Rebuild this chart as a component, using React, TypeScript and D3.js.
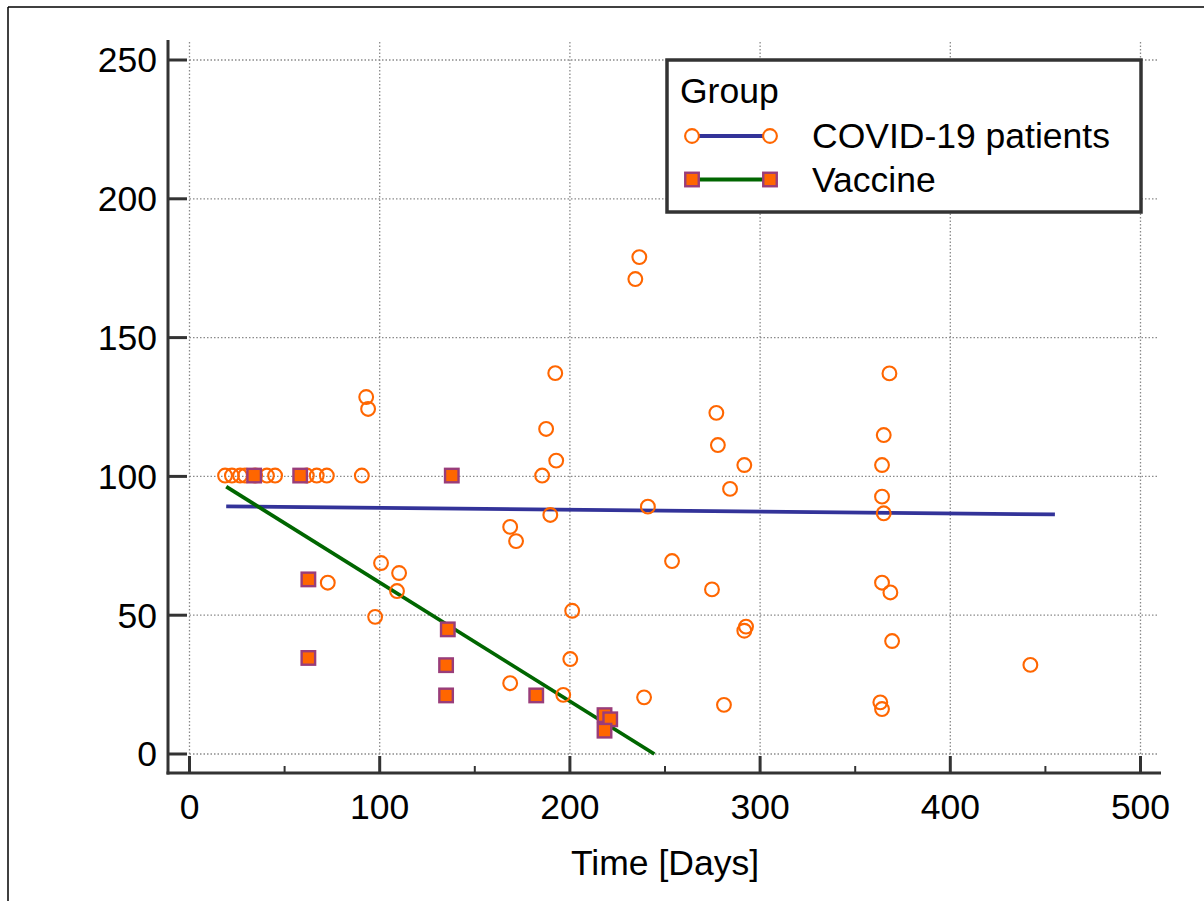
import React from "react";
import * as d3 from "d3";

// ---- data ----
const covidDays = [
  18.7, 22.3, 26.6, 29.2, 34.5, 40.7, 45, 61.7, 66.9, 72.2, 90.6, 185.4,
  92.9, 93.9, 100.7, 110.2, 109.1, 97.6, 72.7, 168.6, 171.7, 187.5, 192.3,
  192.8, 189.7, 201.2, 200.2, 196.5, 168.6, 234.4, 236.5, 241, 253.7, 239,
  277, 277.8, 291.7, 284.2, 274.7, 292.6, 291.7, 281, 368, 365, 364.1, 364.1,
  365, 364.1, 368.5, 369.4, 363.2, 364.1, 442.1,
];
const covidValues = [
  100.3, 100.3, 100.3, 100.3, 100.3, 100.3, 100.3, 100.3, 100.3, 100.3, 100.3, 100.3,
  128.6, 124.3, 68.8, 65.2, 58.7, 49.4, 61.7, 81.8, 76.7, 117.1, 137.2,
  105.7, 86.1, 51.6, 34.2, 21.3, 25.5, 171.1, 179, 89.1, 69.5, 20.4,
  122.9, 111.3, 104.1, 95.5, 59.3, 45.9, 44.4, 17.7, 137.1, 114.9, 104.1, 92.7,
  86.7, 61.7, 58.2, 40.7, 18.6, 16.2, 32.1,
];
const vaccineDays = [34, 58.2, 62.5, 62.5, 137.9, 135.8, 134.9, 134.9, 182.3, 218.2, 221.2, 218.2];
const vaccineValues = [100.3, 100.3, 62.9, 34.6, 100.3, 44.9, 32.0, 21.1, 21.1, 14.0, 12.5, 8.4];

const covidFitDays = [19.3, 455];
const covidFitValues = [89.2, 86.3];
const vaccineFitDays = [19.3, 244.4];
const vaccineFitValues = [96.3, 0];

const xTicks = [0, 100, 200, 300, 400, 500];
const xMinorTicks = [50, 150, 250, 350, 450];
const yTicks = [0, 50, 100, 150, 200, 250];

const groupLabels = ["COVID-19 patients", "Vaccine"];

export default function App() {
  const x = d3.scaleLinear().domain([0, 500]).range([189.5, 1140.5]);
  const y = d3.scaleLinear().domain([0, 250]).range([754, 60]);
  const font = "'Liberation Sans', Arial, sans-serif";
  const fs = 35.5;
  const axisColor = "#333333";
  const orange = "#ff6600";
  const purple = "#993d7a";
  const blue = "#333399";
  const green = "#006600";

  const line = d3
    .line<[number, number]>()
    .x((d) => x(d[0]))
    .y((d) => y(d[1]));

  const covidFit = covidFitDays.map((d, i) => [d, covidFitValues[i]] as [number, number]);
  const vaccineFit = vaccineFitDays.map((d, i) => [d, vaccineFitValues[i]] as [number, number]);

  const sq = 13.5;
  const r = 6.9;
  const lw = 3.8;

  return (
    <svg
      width={1204}
      height={901}
      style={{ position: "absolute", left: 0, top: 0, background: "#fff" }}
    >
      {/* outer frame */}
      <line x1={8} y1={7} x2={1204} y2={7} stroke="#000" strokeWidth={1.5} />
      <line x1={8} y1={7} x2={8} y2={901} stroke="#000" strokeWidth={1.5} />

      {/* grid */}
      {xTicks.map((t) => (
        <line
          key={"gx" + t}
          x1={x(t)}
          x2={x(t)}
          y1={42}
          y2={y(0)}
          stroke="#8a8a8a"
          strokeWidth={1.3}
          strokeDasharray="1.5,2"
        />
      ))}
      {yTicks.map((t) => (
        <line
          key={"gy" + t}
          x1={x(0)}
          x2={1159}
          y1={y(t)}
          y2={y(t)}
          stroke="#8a8a8a"
          strokeWidth={1.3}
          strokeDasharray="1.5,2"
        />
      ))}

      {/* axes */}
      <line x1={168} x2={168} y1={40} y2={774.5} stroke={axisColor} strokeWidth={3} />
      <line x1={166.5} x2={1161} y1={773} y2={773} stroke={axisColor} strokeWidth={3} />
      {yTicks.map((t) => (
        <g key={"yt" + t}>
          <line x1={168} x2={187} y1={y(t)} y2={y(t)} stroke={axisColor} strokeWidth={3} />
          <text
            x={157}
            y={y(t)}
            dy="0.35em"
            textAnchor="end"
            fontFamily={font}
            fontSize={fs}
            fill="#000"
          >
            {t}
          </text>
        </g>
      ))}
      {xTicks.map((t) => (
        <g key={"xt" + t}>
          <line x1={x(t)} x2={x(t)} y1={773} y2={756} stroke={axisColor} strokeWidth={3} />
          <text
            x={x(t)}
            y={819}
            textAnchor="middle"
            fontFamily={font}
            fontSize={fs}
            fill="#000"
          >
            {t}
          </text>
        </g>
      ))}
      {xMinorTicks.map((t) => (
        <line key={"xm" + t} x1={x(t)} x2={x(t)} y1={773} y2={766} stroke={axisColor} strokeWidth={2} />
      ))}
      <text
        x={(x(0) + x(500)) / 2}
        y={875}
        textAnchor="middle"
        fontFamily={font}
        fontSize={fs}
        fill="#000"
      >
        Time [Days]
      </text>

      {/* fit lines */}
      <path d={line(covidFit) || ""} stroke={blue} strokeWidth={lw} fill="none" />
      <path d={line(vaccineFit) || ""} stroke={green} strokeWidth={lw} fill="none" />

      {/* points */}
      {covidDays.map((d, i) => (
        <circle
          key={"c" + i}
          cx={x(d)}
          cy={y(covidValues[i])}
          r={r}
          fill="none"
          stroke={orange}
          strokeWidth={2.1}
        />
      ))}
      {vaccineDays.map((d, i) => (
        <rect
          key={"v" + i}
          x={x(d) - sq / 2}
          y={y(vaccineValues[i]) - sq / 2}
          width={sq}
          height={sq}
          fill={orange}
          stroke={purple}
          strokeWidth={2.4}
        />
      ))}

      {/* legend */}
      <rect x={667} y={60} width={474} height={152} fill="#fff" stroke={axisColor} strokeWidth={3.5} />
      <text x={680} y={103} fontFamily={font} fontSize={fs} fill="#000">
        Group
      </text>
      <line x1={692} x2={770} y1={136} y2={136} stroke={blue} strokeWidth={lw} />
      <circle cx={692} cy={136} r={r} fill="#fff" stroke={orange} strokeWidth={2.1} />
      <circle cx={770} cy={136} r={r} fill="#fff" stroke={orange} strokeWidth={2.1} />
      <text x={812} y={147.5} fontFamily={font} fontSize={fs} fill="#000">
        {groupLabels[0]}
      </text>
      <line x1={692} x2={770} y1={179.5} y2={179.5} stroke={green} strokeWidth={lw} />
      <rect x={692 - sq / 2} y={179.5 - sq / 2} width={sq} height={sq} fill={orange} stroke={purple} strokeWidth={2.4} />
      <rect x={770 - sq / 2} y={179.5 - sq / 2} width={sq} height={sq} fill={orange} stroke={purple} strokeWidth={2.4} />
      <text x={812} y={191.5} fontFamily={font} fontSize={fs} fill="#000">
        {groupLabels[1]}
      </text>
    </svg>
  );
}
